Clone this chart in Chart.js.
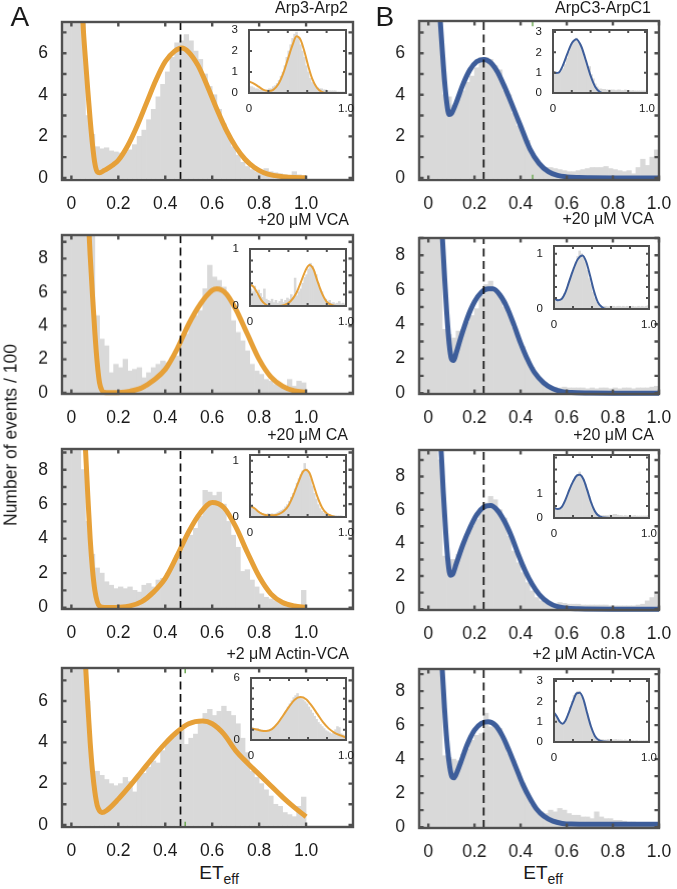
<!DOCTYPE html>
<html lang="en">
<head>
<meta charset="UTF-8">
<title>ET_eff histograms</title>
<style>
  body { margin: 0; background: #fff; }
  #fig { position: relative; width: 677px; height: 889px; overflow: hidden; background: #fff;
         font-family: 'Liberation Sans', Arial, Helvetica, sans-serif; }
  canvas { position: absolute; }
  .txt { position: absolute; color: #1a1a1a; white-space: nowrap; }
  .ylab { position: absolute; left: 10.5px; top: 435px; font-size: 17.5px; color: #1a1a1a; white-space: nowrap;
          transform: translate(-50%, -50%) rotate(-90deg); }
  .xlab { position: absolute; font-size: 19px; line-height: 19px; color: #1a1a1a; white-space: nowrap; transform: translateX(-50%); }
  .xlab sub { font-size: 14px; vertical-align: -5px; line-height: 0; }
</style>
</head>
<body>
<div id="fig"></div>

<script src="https://cdn.jsdelivr.net/npm/chart.js"></script>
<script>
// ---- data ----
const HIST_START = -0.04;   // main histograms start just below 0
const INSET_START = 0;
const BIN_W = 0.02;

const xTicks = [0, 0.2, 0.4, 0.6, 0.8, 1.0];
const xTickText = ['0', '0.2', '0.4', '0.6', '0.8', '1.0'];
const insetXText = ['0', '', '', '', '', '1.0'];

const titles = ['Arp3-Arp2', '+20 μM VCA', '+20 μM CA', '+2 μM Actin-VCA',
                'ArpC3-ArpC1', '+20 μM VCA', '+20 μM CA', '+2 μM Actin-VCA'];

// column A (Arp3-Arp2), events / 100
const a1Hist = [14,14, 14,14,9,3.0,2.1, 1.5,1.4,1.45,1.3,1.25, 1.2,1.25,1.35,1.6,2.0, 2.3,2.8,3.3,3.9,4.5, 5.1,5.8,6.5,6.6,6.9, 6.6,6.1,5.7,5.0,4.4, 4.0,3.3,2.6,2.0,1.5, 1.1,0.75,0.55,0.4,0.3, 0.35,0.45,0.3,0.25,0.2, 0.15,0.1,0.3,0.15,0.1];
const a1FitX = [0.03,0.05,0.06,0.07,0.08,0.09,0.1,0.11,0.12,0.14,0.16,0.18,0.2,0.24,0.28,0.32,0.36,0.4,0.44,0.47,0.5,0.54,0.58,0.62,0.66,0.7,0.74,0.78,0.82,0.86,0.9,0.95,1.0];
const a1FitY = [12,7.3,5.7,4.2,2.8,1.6,0.7,0.3,0.25,0.36,0.5,0.65,0.85,1.55,2.5,3.6,4.7,5.6,6.1,6.25,6.05,5.4,4.4,3.3,2.3,1.5,0.9,0.5,0.25,0.12,0.06,0.02,0.01];

const a2Hist = [14,14, 14,14,14,14,10, 4.6,3.2,2.8,1.2,1.7, 1.5,2.0,1.3,1.4,1.5, 0.9,1.2,1.5,1.7,1.9, 1.8,2.1,2.2,3.1,3.5, 4.3,4.6,4.9,6.2,7.6, 6.9,6.7,6.3,5.7,4.3, 3.6,3.1,2.5,1.7,1.3, 1.1,0.8,0.7,0.5,0.4, 0.3,0.8,0.4,0.7,0.6];
const a2FitX = [0.06,0.07,0.08,0.09,0.1,0.11,0.12,0.13,0.14,0.16,0.2,0.25,0.3,0.35,0.4,0.45,0.5,0.55,0.6,0.62,0.66,0.7,0.75,0.8,0.85,0.9,0.95,1.0];
const a2FitY = [14,11,8.2,5.8,3.6,1.8,0.6,0.15,0.03,0.01,0.02,0.1,0.3,0.75,1.4,2.6,4.1,5.3,6.1,6.2,5.9,5.0,3.5,2.0,0.95,0.4,0.12,0.03];

const a3Hist = [14,14, 14,14,8.0,5.0,3.1, 2.3,2.0,1.5,1.3,1.1, 1.2,1.1,1.2,1.0,0.9, 1.3,1.4,1.2,1.6,1.7, 2.0,2.4,3.0,3.4,4.0, 4.2,4.6,5.3,6.8,6.7, 6.5,6.7,6.0,5.0,4.2, 3.5,2.1,2.2,1.6,1.2, 0.8,0.6,0.5,0.4,0.3, 0.2,0.15,0.1,0.1,1.0];
const a3FitX = [0.05,0.06,0.07,0.08,0.09,0.1,0.11,0.12,0.14,0.2,0.25,0.3,0.35,0.4,0.45,0.5,0.55,0.6,0.65,0.7,0.75,0.8,0.85,0.9,0.95,1.0];
const a3FitY = [12,9.2,6.5,4.0,2.2,1.0,0.35,0.08,0.0,0.02,0.1,0.35,0.9,1.7,3.0,4.4,5.5,6.1,5.8,4.7,3.2,1.8,0.8,0.3,0.1,0.02];

const a4Hist = [14,14, 14,14,12,6.0,2.6, 2.6,2.4,2.2,2.0,1.9, 2.0,2.3,2.1,1.6,2.4, 2.5,2.8,3.1,3.0,3.6, 4.0,4.2,4.4,4.6,3.9, 4.2,4.4,4.9,5.4,5.6, 5.3,5.5,5.75,5.5,5.3, 4.9,4.2,3.5,2.6,2.3, 2.0,1.7,1.4,1.0,0.9, 0.6,0.5,0.4,0.9,1.35];
const a4FitX = [0.05,0.06,0.07,0.08,0.09,0.1,0.11,0.12,0.13,0.15,0.2,0.25,0.3,0.35,0.4,0.45,0.5,0.56,0.6,0.65,0.7,0.75,0.8,0.85,0.9,0.95,1.0];
const a4FitY = [10,7.8,5.8,4.0,2.6,1.6,0.95,0.68,0.6,0.7,1.25,1.9,2.6,3.3,3.95,4.5,4.9,5.03,4.9,4.4,3.6,3.0,2.45,1.9,1.35,0.85,0.4];

// column B (ArpC3-ArpC1)
const b1Hist = [14,14, 14,14,8,4.0,3.9, 3.5,3.8,4.2,4.6,4.9, 5.3,5.8,5.8,5.7,5.4, 5.2,4.2,4.0,3.1,2.5, 2.2,1.8,1.1,0.8,0.6, 0.5,0.5,0.45,0.4,0.35, 0.3,0.3,0.35,0.4,0.45, 0.5,0.5,0.5,0.55,0.45, 0.4,0.35,0.3,0.35,0.2, 0.5,0.9,0.6,1.0,1.35];
const b1FitX = [0.03,0.04,0.05,0.06,0.07,0.08,0.09,0.1,0.12,0.15,0.18,0.21,0.24,0.27,0.3,0.33,0.36,0.4,0.44,0.48,0.52,0.56,0.6,0.65,0.7,0.8,0.9,1.0];
const b1FitY = [12,9.5,7.8,6.2,4.7,3.6,3.05,3.1,3.6,4.5,5.2,5.6,5.7,5.55,5.1,4.4,3.6,2.5,1.4,0.7,0.3,0.12,0.05,0.02,0.01,0,0,0];

const b2Hist = [14,14, 14,14,9,3.7,3.4, 3.2,3.6,3.7,4.1,4.5, 4.9,5.7,6.3,6.5,6.0, 5.6,5.0,4.6,3.8,3.1, 2.7,2.0,1.5,1.0,0.7, 0.5,0.4,0.35,0.3,0.35, 0.3,0.3,0.3,0.3,0.25, 0.3,0.25,0.3,0.3,0.25, 0.3,0.25,0.3,0.3,0.25, 0.3,0.3,0.3,0.35,0.4];
const b2FitX = [0.04,0.05,0.06,0.07,0.08,0.09,0.1,0.11,0.12,0.14,0.17,0.2,0.23,0.26,0.28,0.31,0.34,0.37,0.4,0.43,0.46,0.5,0.54,0.58,0.62,0.7,0.8,1.0];
const b2FitY = [13,11,9.2,6.8,4.6,2.9,2.0,1.9,2.3,3.2,4.4,5.3,5.85,6.05,6.05,5.7,5.0,4.0,2.9,1.95,1.2,0.6,0.25,0.08,0.03,0.01,0,0];

const b3Hist = [14,14, 14,14,9,3.2,3.0, 3.0,3.3,3.8,4.4,5.0, 5.4,5.9,6.4,6.8,6.6, 6.0,5.5,4.4,3.5,2.8, 2.2,1.6,1.1,0.7,0.5, 0.4,0.3,0.3,0.4,0.35, 0.3,0.3,0.3,0.25,0.25, 0.25,0.25,0.25,0.25,0.2, 0.2,0.2,0.2,0.2,0.2, 0.25,0.3,0.5,0.7,0.9];
const b3FitX = [0.035,0.045,0.055,0.065,0.075,0.085,0.095,0.105,0.12,0.15,0.18,0.21,0.24,0.27,0.3,0.33,0.36,0.39,0.42,0.45,0.48,0.52,0.56,0.6,0.65,0.8,1.0];
const b3FitY = [13,11,9.6,7.0,4.7,2.9,2.05,2.1,2.7,3.9,4.9,5.7,6.15,6.25,5.95,5.3,4.4,3.3,2.3,1.5,0.9,0.4,0.15,0.05,0.02,0,0];

const b4Hist = [14,14, 14,14,10,4.2,4.1, 4.0,3.9,4.3,4.6,5.1, 5.4,5.5,6.7,5.9,6.0, 5.8,5.0,4.3,3.9,3.2, 2.6,1.9,1.3,1.0,0.9, 0.8,1.0,0.9,1.1,1.0, 0.8,0.7,0.7,0.6,0.6, 0.5,0.9,0.6,0.5,0.5, 0.4,0.4,0.35,0.3,0.3, 0.25,0.2,0.2,0.2,0.2];
const b4FitX = [0.04,0.05,0.06,0.07,0.08,0.09,0.1,0.11,0.12,0.14,0.17,0.2,0.23,0.26,0.29,0.32,0.35,0.38,0.41,0.44,0.47,0.5,0.54,0.58,0.62,0.7,0.8,1.0];
const b4FitY = [13,11,9.3,7.0,5.1,3.8,3.05,2.9,3.1,3.8,4.9,5.7,6.1,6.2,6.0,5.4,4.5,3.5,2.5,1.7,1.05,0.65,0.35,0.22,0.18,0.17,0.17,0.17];

// insets (x from 0 to 1)
const a1InHist = [0.3,0.3,0.25,0.2,0.2, 0.15,0.15,0.1,0.1,0.15, 0.2,0.2,0.3,0.35,0.45, 0.6,0.8,1.0,1.3,1.7, 2.0,2.3,2.6,2.8,2.9, 2.6,2.3,2.0,1.7,1.3, 1.0,0.7,0.5,0.4,0.3, 0.25,0.2,0.2,0.15,0.15, 0.1,0.1,0.1,0.1,0.1, 0.05,0.05,0.05,0.05,0.05];
const a1InFitX = [0,0.05,0.1,0.15,0.2,0.25,0.3,0.35,0.4,0.45,0.49,0.53,0.57,0.61,0.65,0.7,0.75,0.8,0.9,1.0];
const a1InFitY = [0.55,0.45,0.3,0.15,0.1,0.15,0.4,0.9,1.6,2.3,2.7,2.55,2.0,1.3,0.7,0.25,0.05,0,0,0];

const a2InHist = [0.3,0.25,0.35,0.2,0.28, 0.22,0.15,0.3,0.12,0.1, 0.08,0.12,0.06,0.1,0.05, 0.08,0.12,0.06,0.1,0.14, 0.12,0.2,0.15,0.49,0.18, 0.25,0.3,0.4,0.5,0.55, 0.65,0.75,0.7,0.6,0.55, 0.4,0.3,0.25,0.15,0.12, 0.08,0.1,0.05,0.06,0.04, 0.05,0.08,0.04,0.05,0.03];
const a2InFitX = [0,0.04,0.08,0.12,0.16,0.2,0.3,0.36,0.42,0.48,0.53,0.58,0.62,0.66,0.7,0.75,0.8,0.85,0.9,1.0];
const a2InFitY = [0.38,0.33,0.22,0.1,0.03,0,0,0.02,0.08,0.22,0.42,0.63,0.72,0.65,0.45,0.22,0.07,0.02,0,0];

const a3InHist = [0.18,0.15,0.15,0.12,0.1, 0.08,0.06,0.05,0.05,0.06, 0.05,0.06,0.05,0.06,0.08, 0.1,0.12,0.14,0.18,0.22, 0.28,0.35,0.42,0.5,0.6, 0.68,0.75,0.82,0.95,0.85, 0.78,0.68,0.55,0.42,0.32, 0.22,0.15,0.1,0.07,0.05, 0.04,0.04,0.03,0.03,0.02, 0.02,0.02,0.02,0.01,0.01];
const a3InFitX = [0,0.05,0.1,0.15,0.2,0.25,0.3,0.35,0.4,0.45,0.5,0.55,0.58,0.62,0.66,0.7,0.75,0.8,0.85,0.9,1.0];
const a3InFitY = [0.2,0.15,0.08,0.04,0.03,0.03,0.05,0.1,0.2,0.38,0.6,0.8,0.84,0.78,0.58,0.37,0.17,0.06,0.02,0,0];

const a4InHist = [1.2,1.1,1.0,1.1,1.0, 0.9,0.95,0.9,0.85,0.9, 1.0,1.1,1.2,1.4,1.6, 1.9,2.2,2.5,2.8,3.2, 3.5,3.8,4.1,4.3,4.5, 4.2,4.0,3.9,3.7,3.5, 3.2,2.9,2.6,2.3,2.0, 1.7,1.5,1.3,1.1,0.9, 0.8,0.7,0.6,0.8,1.0, 1.3,1.2,0.6,0.5,0.4];
const a4InFitX = [0,0.05,0.1,0.16,0.22,0.28,0.34,0.4,0.46,0.52,0.58,0.64,0.7,0.76,0.82,0.88,0.94,1.0];
const a4InFitY = [1.1,1.05,0.92,0.87,1.05,1.6,2.4,3.2,3.9,4.15,3.95,3.3,2.5,1.7,1.1,0.7,0.45,0.25];

const b1InHist = [1.0,1.05,1.0,1.0,1.1, 1.2,1.4,1.7,2.0,2.3, 2.5,2.6,2.7,2.5,2.4, 2.1,1.9,1.6,1.3,1.3, 0.9,0.7,0.45,0.3,0.2, 0.2,0.18,0.18,0.15,0.15, 0.15,0.15,0.15,0.12,0.15, 0.15,0.12,0.12,0.15,0.12, 0.12,0.1,0.12,0.1,0.1, 0.1,0.1,0.1,0.1,0.1];
const b1InFitX = [0,0.03,0.06,0.1,0.15,0.2,0.25,0.3,0.35,0.4,0.45,0.5,0.55,0.6,1.0];
const b1InFitY = [1.05,0.98,1.0,1.3,1.9,2.45,2.65,2.3,1.6,0.85,0.3,0.05,0,0,0];

const b2InHist = [0.2,0.17,0.16,0.18,0.22, 0.28,0.35,0.45,0.55,0.65, 0.75,0.85,0.95,1.05,1.0, 0.95,0.85,0.7,0.55,0.45, 0.3,0.2,0.12,0.08,0.06, 0.05,0.05,0.05,0.04,0.05, 0.05,0.05,0.04,0.05,0.05, 0.04,0.05,0.04,0.05,0.04, 0.04,0.05,0.04,0.04,0.05, 0.04,0.05,0.04,0.05,0.06];
const b2InFitX = [0,0.04,0.08,0.12,0.16,0.2,0.25,0.3,0.34,0.38,0.42,0.46,0.5,0.55,1.0];
const b2InFitY = [0.2,0.16,0.18,0.3,0.5,0.7,0.9,0.97,0.85,0.6,0.33,0.13,0.04,0,0];

const b3InHist = [0.45,0.4,0.38,0.42,0.5, 0.65,0.8,1.0,1.2,1.4, 1.55,1.7,1.8,1.9,1.75, 1.6,1.4,1.15,0.9,0.65, 0.45,0.3,0.2,0.15,0.1, 0.1,0.1,0.1,0.1,0.12, 0.1,0.15,0.15,0.12,0.1, 0.1,0.08,0.1,0.08,0.08, 0.08,0.08,0.1,0.08,0.08, 0.08,0.08,0.08,0.08,0.1];
const b3InFitX = [0,0.04,0.08,0.12,0.16,0.2,0.24,0.27,0.31,0.35,0.39,0.43,0.47,0.52,0.6,1.0];
const b3InFitY = [0.42,0.37,0.45,0.75,1.15,1.5,1.75,1.78,1.6,1.15,0.65,0.28,0.09,0.02,0,0];

const b4InHist = [1.4,1.2,1.05,0.95,0.9, 1.0,1.1,1.4,1.7,2.0, 2.3,2.4,2.5,2.5,2.2, 2.0,1.7,1.4,1.0,0.7, 0.45,0.3,0.2,0.15,0.12, 0.12,0.1,0.1,0.12,0.1, 0.1,0.1,0.12,0.1,0.1, 0.1,0.08,0.1,0.08,0.08, 0.08,0.08,0.06,0.08,0.06, 0.06,0.06,0.06,0.06,0.06];
const b4InFitX = [0,0.03,0.06,0.09,0.12,0.16,0.2,0.24,0.27,0.31,0.35,0.39,0.43,0.47,0.52,0.6,1.0];
const b4InFitY = [1.45,1.25,1.0,0.9,1.05,1.5,2.0,2.4,2.42,2.1,1.4,0.75,0.3,0.1,0.02,0,0];

// dashed reference positions and the small green marks
const dashA = 0.465, dashB = 0.24;
const greenA4 = 0.485, greenB1 = 0.452;

// ---- styles ----
const FONT = "'Liberation Sans', Arial, Helvetica, sans-serif";
const TXT = '#1a1a1a';
const FRAME = '#505050';
const GRAY = '#d9d9d9';
const ORANGE = '#e6a038';
const BLUE = '#3d5d9a';

const fig = document.getElementById('fig');

// frame with inward ticks on all four sides, plus optional white fill for insets
Chart.register({
  id: 'frame',
  beforeDatasetsDraw(chart, args, o) {
    if (!o.fill) return;
    const a = chart.chartArea;
    chart.ctx.save();
    chart.ctx.fillStyle = '#fff';
    chart.ctx.fillRect(a.left, a.top, a.width, a.height);
    chart.ctx.restore();
  },
  afterDatasetsDraw(chart, args, o) {
    if (!o.width) return;
    const {ctx, chartArea: a, scales: {x, y}} = chart;
    ctx.save();
    ctx.strokeStyle = o.color;
    ctx.lineWidth = o.width;
    ctx.beginPath();
    x.ticks.forEach(t => {
      const px = x.getPixelForValue(t.value);
      ctx.moveTo(px, a.bottom); ctx.lineTo(px, a.bottom - o.tick);
      ctx.moveTo(px, a.top); ctx.lineTo(px, a.top + o.tick);
    });
    y.ticks.forEach(t => {
      const py = y.getPixelForValue(t.value);
      ctx.moveTo(a.left, py); ctx.lineTo(a.left + o.tick, py);
      ctx.moveTo(a.right, py); ctx.lineTo(a.right - o.tick, py);
    });
    ctx.stroke();
    ctx.strokeRect(a.left, a.top, a.width, a.height);
    ctx.restore();
  }
});

function addCanvas(left, top, w, h) {
  const c = document.createElement('canvas');
  c.width = w; c.height = h;
  c.style.left = left + 'px'; c.style.top = top + 'px';
  c.style.width = w + 'px'; c.style.height = h + 'px';
  fig.appendChild(c);
  return c;
}

function histData(vals, start) {
  return vals.map((v, i) => ({x: start + BIN_W * (i + 0.5), y: v}));
}
function fitData(xs, ys) {
  return xs.map((x, i) => ({x: x, y: ys[i]}));
}
function tickList(max, step) {
  const out = [];
  for (let k = 0; k * step <= max + 1e-9; k++) out.push(Math.round(k * step * 1000) / 1000);
  return out;
}

function drawPanel(p, inset) {
  const [L, T, R, B] = p.box;
  const YW = inset ? 24 : 44, XH = inset ? 20 : 30, PT = inset ? 8 : 4, PR = inset ? 12 : 16;
  const cv = addCanvas(L - YW, T - PT, R - L + YW + PR, B - T + PT + XH);
  const yTicks = tickList(p.y[1], p.step);
  const fontSize = inset ? 11.5 : 17.5;
  const datasets = [
    { type: 'bar', data: histData(p.hist, inset ? INSET_START : HIST_START), backgroundColor: GRAY,
      barPercentage: 1, categoryPercentage: 1, borderWidth: 0, clip: 0, order: 5 },
    { type: 'line', data: fitData(p.fitX, p.fitY), borderColor: p.color, borderWidth: inset ? 2 : 5,
      pointRadius: 0, cubicInterpolationMode: 'monotone', clip: {left: 0, top: 0, right: 0, bottom: 3}, order: 3 }
  ];
  if (p.dash != null) {
    datasets.push({ type: 'line', data: [{x: p.dash, y: p.y[0]}, {x: p.dash, y: p.y[1]}], borderColor: '#111',
      borderWidth: 1.7, borderDash: [8, 4.5], pointRadius: 0, clip: 0, order: 1 });
  }
  if (p.green != null) {
    const h = 0.25;
    [[p.y[1] - h, p.y[1]], [p.y[0], p.y[0] + h]].forEach(seg => {
      datasets.push({ type: 'line', data: [{x: p.green, y: seg[0]}, {x: p.green, y: seg[1]}], borderColor: '#6aa84f',
        borderWidth: 1.5, pointRadius: 0, clip: 0, order: 0 });
    });
  }
  new Chart(cv, {
    type: 'bar',
    data: {datasets: datasets},
    options: {
      responsive: false, animation: false, events: [],
      layout: {padding: {left: 0, top: PT, right: PR, bottom: 0}},
      plugins: {
        legend: {display: false}, tooltip: {enabled: false},
        frame: {color: FRAME, width: inset ? 2 : 2.4, tick: inset ? 3 : 4.5, fill: inset}
      },
      scales: {
        x: {
          type: 'linear', min: p.x[0], max: p.x[1], offset: false,
          grid: {display: false}, border: {display: false},
          afterBuildTicks: s => { s.ticks = xTicks.map(v => ({value: v})); },
          afterFit: s => { s.height = XH; s.paddingLeft = 0; s.paddingRight = 0; },
          ticks: {
            padding: inset ? 1 : 6, color: TXT, font: {family: FONT, size: fontSize},
            maxRotation: 0, minRotation: 0, autoSkip: false,
            callback: (v, i) => (inset ? insetXText : xTickText)[i]
          }
        },
        y: {
          type: 'linear', min: p.y[0], max: p.y[1],
          grid: {display: false}, border: {display: false},
          afterBuildTicks: s => { s.ticks = yTicks.map(v => ({value: v})); },
          afterFit: s => { s.width = YW; s.paddingTop = 0; s.paddingBottom = 0; },
          ticks: {
            padding: inset ? 3 : 6, color: TXT, font: {family: FONT, size: fontSize}, autoSkip: false,
            callback: v => (p.labels.indexOf(v) >= 0 ? String(v) : '')
          }
        }
      }
    }
  });
}

const panels = [
  { box: [61.5, 22, 353, 180], x: [-0.04, 1.2], y: [-0.1, 7.5], step: 1, labels: [0, 2, 4, 6],
    hist: a1Hist, fitX: a1FitX, fitY: a1FitY, color: ORANGE, dash: dashA, title: titles[0], tBase: 13.5, tRight: 348,
    inset: { box: [249, 29.5, 346, 92.5], x: [0, 1.0], y: [0, 3], step: 1, labels: [0, 1, 2, 3],
             hist: a1InHist, fitX: a1InFitX, fitY: a1InFitY, color: ORANGE } },
  { box: [61.5, 235, 353, 393.5], x: [-0.04, 1.2], y: [-0.06, 9.4], step: 1, labels: [0, 2, 4, 6, 8],
    hist: a2Hist, fitX: a2FitX, fitY: a2FitY, color: ORANGE, dash: dashA, title: titles[1], tBase: 226, tRight: 349,
    inset: { box: [250, 249, 346, 306], x: [0, 1.0], y: [0, 1.0], step: 0.2, labels: [0, 1],
             hist: a2InHist, fitX: a2InFitX, fitY: a2InFitY, color: ORANGE } },
  { box: [61.5, 449, 353, 609], x: [-0.04, 1.2], y: [-0.08, 9.2], step: 1, labels: [0, 2, 4, 6, 8],
    hist: a3Hist, fitX: a3FitX, fitY: a3FitY, color: ORANGE, dash: dashA, title: titles[2], tBase: 441, tRight: 348,
    inset: { box: [250, 454.5, 346, 516.5], x: [0, 1.0], y: [0, 1.1], step: 0.2, labels: [0, 1],
             hist: a3InHist, fitX: a3InFitX, fitY: a3InFitY, color: ORANGE } },
  { box: [61.5, 668, 353, 827], x: [-0.04, 1.2], y: [-0.1, 7.6], step: 1, labels: [0, 2, 4, 6],
    hist: a4Hist, fitX: a4FitX, fitY: a4FitY, color: ORANGE, dash: dashA, green: greenA4, title: titles[3], tBase: 660, tRight: 349,
    inset: { box: [251, 677.5, 346, 740], x: [0, 1.0], y: [0, 6], step: 1, labels: [0, 6],
             hist: a4InHist, fitX: a4InFitX, fitY: a4InFitY, color: ORANGE } },
  { box: [419, 21, 658.5, 180], x: [-0.04, 1.0], y: [-0.1, 7.55], step: 1, labels: [0, 2, 4, 6],
    hist: b1Hist, fitX: b1FitX, fitY: b1FitY, color: BLUE, dash: dashB, green: greenB1, title: titles[4], tBase: 14, tRight: 651,
    inset: { box: [552.5, 29.5, 647, 93], x: [0, 1.0], y: [0, 3.1], step: 1, labels: [0, 1, 2, 3],
             hist: b1InHist, fitX: b1InFitX, fitY: b1InFitY, color: BLUE } },
  { box: [419, 237.5, 658.5, 394], x: [-0.04, 1.0], y: [-0.05, 9.0], step: 1, labels: [0, 2, 4, 6, 8],
    hist: b2Hist, fitX: b2FitX, fitY: b2FitY, color: BLUE, dash: dashB, title: titles[5], tBase: 225, tRight: 654,
    inset: { box: [554, 245.5, 649, 309], x: [0, 1.0], y: [0, 1.14], step: 0.2, labels: [0, 1],
             hist: b2InHist, fitX: b2InFitX, fitY: b2InFitY, color: BLUE } },
  { box: [419, 450, 658.5, 610], x: [-0.04, 1.0], y: [-0.05, 9.6], step: 1, labels: [0, 2, 4, 6, 8],
    hist: b3Hist, fitX: b3FitX, fitY: b3FitY, color: BLUE, dash: dashB, title: titles[6], tBase: 441, tRight: 654,
    inset: { box: [553.5, 455, 649, 518.3], x: [0, 1.0], y: [0, 2.6], step: 0.5, labels: [0, 1],
             hist: b3InHist, fitX: b3InFitX, fitY: b3InFitY, color: BLUE } },
  { box: [419, 669, 658.5, 828], x: [-0.04, 1.0], y: [-0.05, 9.3], step: 1, labels: [0, 2, 4, 6, 8],
    hist: b4Hist, fitX: b4FitX, fitY: b4FitY, color: BLUE, dash: dashB, title: titles[7], tBase: 660, tRight: 655,
    inset: { box: [554, 678.5, 649, 742], x: [0, 1.0], y: [0, 3.1], step: 1, labels: [0, 1, 2, 3],
             hist: b4InHist, fitX: b4InFitX, fitY: b4InFitY, color: BLUE } }
];

function addText(html, size, base, pos) {
  const d = document.createElement('div');
  d.className = 'txt';
  d.innerHTML = html;
  d.style.fontSize = size + 'px';
  d.style.lineHeight = size + 'px';
  d.style.top = (base - 0.86 * size) + 'px';
  if (pos.right != null) d.style.right = (677 - pos.right) + 'px';
  else d.style.left = pos.left + 'px';
  fig.appendChild(d);
}

panels.forEach(p => drawPanel(p, false));
panels.forEach(p => drawPanel(p.inset, true));
panels.forEach(p => addText(p.title, 16, p.tBase, {right: p.tRight}));

addText('A', 28, 26.7, {left: 10.5});
addText('B', 28, 26.7, {left: 375.5});

const yl = document.createElement('div');
yl.className = 'ylab';
yl.textContent = 'Number of events / 100';
fig.appendChild(yl);

[[219, 'ET'], [543, 'ET']].forEach(([cx, t]) => {
  const d = document.createElement('div');
  d.className = 'xlab';
  d.innerHTML = t + '<sub>eff</sub>';
  d.style.left = cx + 'px';
  d.style.top = (879.5 - 0.86 * 19) + 'px';
  fig.appendChild(d);
});
</script>
</body>
</html>
